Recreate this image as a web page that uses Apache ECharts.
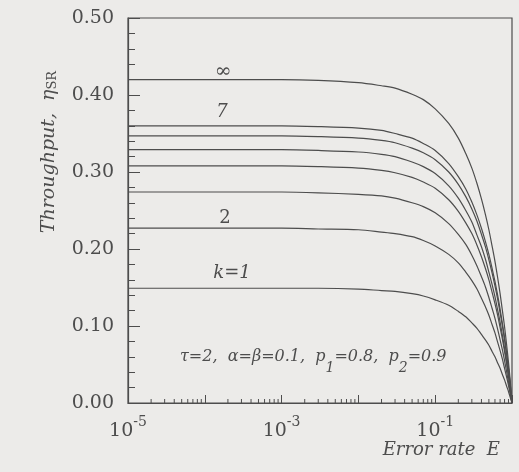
<!DOCTYPE html>
<html>
<head>
<meta charset="utf-8">
<script src="https://cdn.jsdelivr.net/npm/echarts@6.0.0/dist/echarts.min.js"></script>
<style>
  html, body { margin: 0; padding: 0; background: #ecebe9; }
  #main { width: 519px; height: 472px; }
</style>
</head>
<body>
<div id="main"></div>
<script>
// error rate E (x, log scale)
var errorRate = [1e-5, 1e-4, 1e-3, 3e-3, 0.01, 0.02, 0.03, 0.05, 0.07, 0.1,
  0.15, 0.2, 0.25, 0.3, 0.35, 0.4, 0.45, 0.5, 0.55, 0.6,
  0.65, 0.7, 0.75, 0.8, 0.85, 0.9, 0.95, 1.0];

// throughput eta_SR for each k
var etaK1 = [0.149, 0.149, 0.149, 0.149, 0.148, 0.146, 0.145, 0.142, 0.139, 0.134,
  0.127, 0.119, 0.112, 0.104, 0.097, 0.089, 0.082, 0.075, 0.067, 0.060,
  0.052, 0.045, 0.037, 0.030, 0.022, 0.015, 0.007, 0];
var etaK2 = [0.227, 0.227, 0.227, 0.226, 0.225, 0.222, 0.220, 0.216, 0.211, 0.204,
  0.193, 0.182, 0.170, 0.159, 0.148, 0.136, 0.125, 0.114, 0.102, 0.091,
  0.079, 0.068, 0.057, 0.045, 0.034, 0.023, 0.011, 0];
var etaK3 = [0.274, 0.274, 0.274, 0.273, 0.271, 0.269, 0.266, 0.260, 0.255, 0.247,
  0.233, 0.219, 0.206, 0.192, 0.178, 0.164, 0.151, 0.137, 0.123, 0.110,
  0.096, 0.082, 0.069, 0.055, 0.041, 0.027, 0.014, 0];
var etaK4 = [0.308, 0.308, 0.308, 0.307, 0.305, 0.302, 0.299, 0.293, 0.287, 0.279,
  0.264, 0.249, 0.234, 0.220, 0.205, 0.190, 0.175, 0.160, 0.144, 0.129,
  0.114, 0.098, 0.083, 0.067, 0.051, 0.034, 0.018, 0];
var etaK5 = [0.329, 0.329, 0.329, 0.328, 0.326, 0.323, 0.320, 0.313, 0.307, 0.298,
  0.282, 0.266, 0.250, 0.235, 0.218, 0.203, 0.187, 0.170, 0.154, 0.138,
  0.121, 0.105, 0.088, 0.071, 0.054, 0.037, 0.019, 0];
var etaK6 = [0.347, 0.347, 0.347, 0.346, 0.344, 0.341, 0.338, 0.331, 0.325, 0.316,
  0.300, 0.284, 0.268, 0.252, 0.236, 0.219, 0.203, 0.186, 0.169, 0.152,
  0.135, 0.117, 0.100, 0.082, 0.063, 0.044, 0.023, 0];
var etaK7 = [0.360, 0.360, 0.360, 0.359, 0.357, 0.354, 0.350, 0.344, 0.337, 0.328,
  0.311, 0.294, 0.278, 0.261, 0.244, 0.227, 0.210, 0.193, 0.175, 0.158,
  0.140, 0.122, 0.103, 0.085, 0.065, 0.045, 0.024, 0];
var etaInf = [0.420, 0.420, 0.420, 0.419, 0.416, 0.412, 0.409, 0.401, 0.394, 0.382,
  0.363, 0.344, 0.324, 0.305, 0.285, 0.265, 0.245, 0.225, 0.204, 0.184,
  0.163, 0.142, 0.120, 0.099, 0.076, 0.053, 0.028, 0];

var curveNames = ['k=1', '2', '3', '4', '5', '6', '7', '∞'];
var curves = [etaK1, etaK2, etaK3, etaK4, etaK5, etaK6, etaK7, etaInf];

var ink = '#4d4d4d';
var serif = '"DejaVu Serif", "Liberation Serif", serif';

// minor ticks of the log axis: 2..9 x 10^n
var logMinor = [];
for (var d = -5; d < 0; d++) {
  for (var m = 2; m <= 9; m++) {
    logMinor.push([m * Math.pow(10, d), 0]);
  }
}

var series = curves.map(function (vals, i) {
  return {
    name: curveNames[i],
    type: 'line',
    data: errorRate.map(function (e, j) { return [e, vals[j]]; }),
    smooth: 0.3,
    showSymbol: false,
    silent: true,
    lineStyle: { color: ink, width: 1.2 }
  };
});

series.push({
  type: 'custom',
  silent: true,
  data: logMinor,
  renderItem: function (params, api) {
    var p = api.coord([api.value(0), 0]);
    return {
      type: 'line',
      shape: { x1: p[0], y1: p[1], x2: p[0], y2: p[1] - 4 },
      style: { stroke: ink, lineWidth: 1 }
    };
  }
});

var chart = echarts.init(document.getElementById('main'));
var option = {
  backgroundColor: '#ecebe9',
  animation: false,
  grid: {
    left: 128, top: 18, width: 384, height: 385,
    show: true, borderColor: ink, borderWidth: 1.2, backgroundColor: 'transparent'
  },
  xAxis: {
    type: 'log',
    logBase: 10,
    min: 1e-5,
    max: 1,
    splitNumber: 5,
    axisLine: { lineStyle: { color: ink, width: 1.2 } },
    axisTick: { inside: true, length: 8, lineStyle: { color: ink, width: 1 } },
    splitLine: { show: false },
    axisLabel: {
      margin: 12,
      formatter: function (v) {
        var ex = Math.round(Math.log10(v));
        if (ex % 2 === 0) return '';
        return '{b|10}{s|' + ex + '}';
      },
      rich: {
        b: { fontFamily: serif, fontSize: 19, color: ink, verticalAlign: 'bottom', lineHeight: 26 },
        s: { fontFamily: serif, fontSize: 14, color: ink, verticalAlign: 'top', lineHeight: 26 }
      }
    }
  },
  yAxis: {
    type: 'value',
    min: 0,
    max: 0.5,
    interval: 0.1,
    axisLine: { lineStyle: { color: ink, width: 1.2 } },
    axisTick: { inside: true, length: 12, lineStyle: { color: ink, width: 1 } },
    minorTick: { show: true, splitNumber: 5, length: 7, lineStyle: { color: ink, width: 1 } },
    splitLine: { show: false },
    axisLabel: {
      margin: 14,
      fontFamily: serif,
      fontSize: 19,
      color: ink,
      formatter: function (v) { return v.toFixed(2); }
    }
  },
  graphic: [
    {
      type: 'text', x: 47, y: 152, rotation: Math.PI / 2,
      style: {
        text: '{i|Throughput,  η}{sub|SR}',
        align: 'center',
        verticalAlign: 'middle',
        rich: {
          i: { fontFamily: serif, fontStyle: 'italic', fontSize: 19, fill: ink, verticalAlign: 'bottom', lineHeight: 24 },
          sub: { fontFamily: serif, fontSize: 13, fill: ink, verticalAlign: 'bottom', lineHeight: 18 }
        }
      }
    },
    { type: 'text', x: 223, y: 72, style: { text: '∞', font: '20px ' + serif, fill: ink, align: 'center', verticalAlign: 'middle' } },
    { type: 'text', x: 222, y: 112, style: { text: '7', font: 'italic 18px ' + serif, fill: ink, align: 'center', verticalAlign: 'middle' } },
    { type: 'text', x: 225, y: 218, style: { text: '2', font: '18px ' + serif, fill: ink, align: 'center', verticalAlign: 'middle' } },
    { type: 'text', x: 232, y: 273, style: { text: 'k=1', font: 'italic 18px ' + serif, fill: ink, align: 'center', verticalAlign: 'middle' } },
    {
      type: 'text', x: 180, y: 362,
      style: {
        text: '{i|τ=2,  α=β=0.1,  p}{s|1}{i|=0.8,  p}{s|2}{i|=0.9}',
        fill: ink,
        verticalAlign: 'middle',
        rich: {
          i: { fontFamily: serif, fontStyle: 'italic', fontSize: 16, fill: ink, verticalAlign: 'top', lineHeight: 22 },
          s: { fontFamily: serif, fontStyle: 'italic', fontSize: 14, fill: ink, verticalAlign: 'bottom', lineHeight: 26 }
        }
      }
    },
    { type: 'text', x: 500, y: 450, style: { text: 'Error rate  E', font: 'italic 18px ' + serif, fill: ink, align: 'right', verticalAlign: 'middle' } }
  ],
  series: series
};
chart.setOption(option);
</script>
</body>
</html>
